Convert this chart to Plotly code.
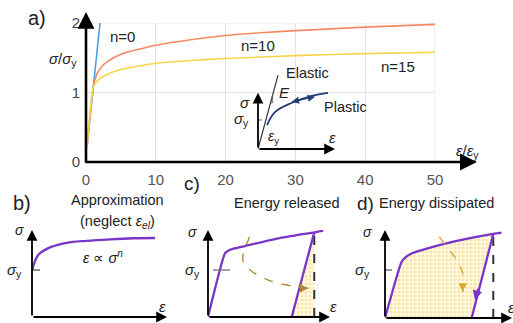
import plotly.graph_objects as go

# ---------------- Panel a: normalised stress-strain curves ----------------
strain_n0 = [0.15, 2.01]
stress_n0 = [0.22, 2.0]
strain_n10 = [0.15, 1.05, 1.5, 2, 3, 5, 10, 15, 20, 25, 30, 40, 50]
stress_n10 = [0.22, 1.08, 1.25, 1.34, 1.44, 1.55, 1.68, 1.76, 1.82, 1.86, 1.89, 1.94, 1.98]
strain_n15 = [0.15, 1.05, 1.5, 2, 3, 5, 10, 15, 20, 30, 40, 50]
stress_n15 = [0.22, 1.08, 1.15, 1.2, 1.26, 1.33, 1.42, 1.46, 1.49, 1.53, 1.56, 1.58]
x_ticks = [0, 10, 20, 30, 40, 50]
y_ticks = [0, 1, 2]

# inset schematic (normalised units)
inset_el_x = [0, 0.26]
inset_el_y = [0, 0.96]
inset_pl_x = [0.117, 0.22, 0.44, 0.70, 0.91]
inset_pl_y = [0.31, 0.48, 0.60, 0.69, 0.73]
inset_tri_x = [0.163, 0.19, 0.19, 0.163]
inset_tri_y = [0.60, 0.60, 0.70, 0.60]

# ---------------- Panel b ----------------
b_x = [0.002, 0.046, 0.133, 0.257, 0.405, 0.578, 0.75, 0.911]
b_y = [0.54, 0.713, 0.80, 0.853, 0.876, 0.893, 0.905, 0.908]

# ---------------- Panel c ----------------
c_load_x = [0, 0.139, 0.165, 0.21, 0.303, 0.576, 0.871, 0.945]
c_load_y = [0, 0.732, 0.762, 0.785, 0.816, 0.904, 0.973, 0.992]
c_unload_x = [0.871, 0.686]
c_unload_y = [0.973, 0]
c_fill_x = [0.686, 0.871, 0.871, 0.686]
c_fill_y = [0, 0.973, 0, 0]
c_path_x = [0.399, 0.330, 0.289, 0.289, 0.344, 0.494, 0.686, 0.822]
c_path_y = [1.115, 0.885, 0.732, 0.635, 0.54, 0.425, 0.356, 0.330]

# ---------------- Panel d ----------------
d_load_x = [0, 0.13, 0.16, 0.2, 0.273, 0.534, 0.846, 0.911]
d_load_y = [0, 0.64, 0.69, 0.728, 0.765, 0.867, 0.955, 0.969]
d_unload_x = [0.846, 0.677]
d_unload_y = [0.955, 0]
d_fill_x = [0, 0.13, 0.16, 0.2, 0.273, 0.534, 0.846, 0.677, 0]
d_fill_y = [0, 0.64, 0.69, 0.728, 0.765, 0.867, 0.955, 0, 0]
d_path_x = [0.338, 0.404, 0.482, 0.56, 0.607, 0.612, 0.607]
d_path_y = [1.083, 0.962, 0.81, 0.659, 0.508, 0.356, 0.299]

W, H = 513, 323
FONT = "Liberation Sans, Arial, sans-serif"
PURPLE = "#7A35C8"
NAVY = "#243C78"
BROWN = "#B08A3C"
GOLD = "#D6A932"

# pixel boxes of every panel: (x_left_px, x_right_px, y_bottom_px, y_top_px, xrange, yrange)
BOX = {
    1: (86, 435, 162, 23, (0, 50), (0, 2)),
    2: (258, 335, 149, 72, (0, 1), (0, 1)),
    3: (32, 167, 317, 230, (0, 1), (0, 1)),
    4: (208, 330, 317, 230, (0, 1), (0, 1)),
    5: (385, 513, 318, 230, (0, 1), (0, 1)),
}


def to_px(i, x, y):
    xl, xr, yb, yt, rx, ry = BOX[i]
    px = xl + (x - rx[0]) / (rx[1] - rx[0]) * (xr - xl)
    py = yb + (y - ry[0]) / (ry[1] - ry[0]) * (yt - yb)
    return px, py


fig = go.Figure()


def line(i, xs, ys, **kw):
    xa = "x" if i == 1 else "x%d" % i
    ya = "y" if i == 1 else "y%d" % i
    fig.add_trace(go.Scatter(x=xs, y=ys, mode="lines", xaxis=xa, yaxis=ya, hoverinfo="skip", **kw))


# panel a curves
line(1, strain_n0, stress_n0, line=dict(color="#4BA3E6", width=1.6))
line(1, strain_n10, stress_n10, line=dict(color="#F58A62", width=1.6, shape="spline", smoothing=0.6))
line(1, strain_n15, stress_n15, line=dict(color="#F7D54A", width=1.6, shape="spline", smoothing=0.6))

# inset
line(2, inset_el_x, inset_el_y, line=dict(color="#333", width=1.2))
line(2, inset_tri_x, inset_tri_y, line=dict(color="#555", width=0.8))
line(2, inset_pl_x, inset_pl_y, line=dict(color=NAVY, width=1.8, shape="spline"))
line(2, [-0.05, 0.05], [0.377, 0.377], line=dict(color="#555", width=1))

# panel b
line(3, b_x, b_y, line=dict(color=PURPLE, width=2.3, shape="spline"))
line(3, [-0.074, 0.059], [0.54, 0.54], line=dict(color="#444", width=1.2))

# panel c
line(4, c_fill_x, c_fill_y, fill="toself", line=dict(width=0), fillcolor="#FFF4D0",
     fillpattern=dict(shape=".", fgcolor="#F2CC66", bgcolor="#FFF8E0", size=4, solidity=0.35))
line(4, [0.871, 0.871], [0, 0.973], line=dict(color="#333", width=2, dash="dash"))
line(4, c_load_x, c_load_y, line=dict(color=PURPLE, width=2.3, shape="spline", smoothing=0.5))
line(4, c_unload_x, c_unload_y, line=dict(color=PURPLE, width=2.3))
line(4, [0.041, 0.18], [0.54, 0.54], line=dict(color="#777", width=1.4))
line(4, c_path_x, c_path_y, line=dict(color=BROWN, width=1.4, dash="dash", shape="spline"))

# panel d
line(5, d_fill_x, d_fill_y, fill="toself", line=dict(width=0), fillcolor="#FFF4D0",
     fillpattern=dict(shape=".", fgcolor="#F2CC66", bgcolor="#FFF8E0", size=4, solidity=0.35))
line(5, [0.846, 0.846], [0, 0.955], line=dict(color="#333", width=2, dash="dash"))
line(5, d_load_x, d_load_y, line=dict(color=PURPLE, width=2.3, shape="spline", smoothing=0.5))
line(5, d_unload_x, d_unload_y, line=dict(color=PURPLE, width=2.3))
line(5, [-0.04, 0.055], [0.545, 0.545], line=dict(color="#555", width=1.2))
line(5, d_path_x, d_path_y, line=dict(color=GOLD, width=1.4, dash="dash", shape="spline"))

ann = []


def arrow(i, x0, y0, x1, y1, color="#000", width=2.0, size=1.0, head=2, side="end"):
    p0 = to_px(i, x0, y0)
    p1 = to_px(i, x1, y1)
    ann.append(dict(xref="paper", yref="paper", x=p1[0] / W, y=1 - p1[1] / H,
                    axref="pixel", ayref="pixel", ax=p0[0] - p1[0], ay=p0[1] - p1[1],
                    showarrow=True, arrowhead=head, arrowwidth=width, arrowsize=size,
                    arrowcolor=color, arrowside=side, text="", standoff=0, startstandoff=0))


def head(i, x, y, dx, dy, color, width=1.4, size=1.2):
    p1 = to_px(i, x, y)
    ann.append(dict(xref="paper", yref="paper", x=p1[0] / W, y=1 - p1[1] / H,
                    axref="pixel", ayref="pixel", ax=dx, ay=dy, showarrow=True,
                    arrowhead=2, arrowwidth=width, arrowsize=size, arrowcolor=color, text=""))


def txt(i, x, y, s, size=14.5, color="#222", xanchor="center"):
    p = to_px(i, x, y)
    ann.append(dict(xref="paper", yref="paper", x=p[0] / W, y=1 - p[1] / H, text=s, showarrow=False,
                    font=dict(family=FONT, size=size, color=color), xanchor=xanchor, yanchor="middle"))


# main axis arrows
arrow(1, -0.3, 0, 56.0, 0, width=2.6, size=1.3)
arrow(1, 0, -0.03, 0, 2.16, width=2.6, size=1.3)
# inset axis arrows
arrow(2, 0, 0, 1.0, 0, width=1.8, size=1.2)
arrow(2, 0, 0, 0, 0.73, width=1.8, size=1.2)
arrow(2, 0.42, 0.61, 0.74, 0.68, color=NAVY, width=1.2, size=1.2, side="end+start")
# panel b axes
arrow(3, 0, 0, 1.0, 0, width=1.8, size=1.2)
arrow(3, 0, 0, 0, 1.0, width=1.8, size=1.2)
# panel c axes
arrow(4, 0, 0, 1.0, 0, width=1.8, size=1.2)
arrow(4, 0, 0, 0, 1.0, width=1.8, size=1.2)
head(4, 0.822, 0.330, -7, 0, BROWN)
# panel d axes
arrow(5, 0, 0, 1.05, 0, width=1.8, size=1.2)
arrow(5, 0, 0, 0, 1.0, width=1.8, size=1.2)
head(5, 0.607, 0.299, 0, -7, GOLD)
arrow(5, 0.729, 0.35, 0.703, 0.205, color=PURPLE, width=1.6, size=1.2)

# texts panel a
txt(1, -7.0, 2.07, "a)", size=20)
txt(1, 5.3, 1.80, "n=0", size=15)
txt(1, 24.6, 1.68, "n=10", size=15)
txt(1, 44.7, 1.37, "n=15", size=15)
txt(1, -3.3, 1.47, "<i>σ</i>/<i>σ</i><sub>y</sub>", size=15)
txt(1, 54.6, 0.15, "<i>ε</i>/<i>ε</i><sub>y</sub>", size=15)
# inset texts
txt(2, -0.17, 0.61, "<i>σ</i>", size=15)
txt(2, -0.21, 0.38, "<i>σ</i><sub>y</sub>", size=15)
txt(2, 0.20, 0.15, "<i>ε</i><sub>y</sub>", size=14)
txt(2, 0.97, 0.15, "<i>ε</i>", size=15)
txt(2, 0.34, 0.73, "<i>E</i>", size=15)
txt(2, 0.64, 0.99, "Elastic", size=14.5)
txt(2, 1.13, 0.55, "Plastic", size=14.5)
# panel b texts
txt(3, -0.074, 1.31, "b)", size=20)
txt(3, 0.63, 1.345, "Approximation", size=14.5)
txt(3, 0.63, 1.09, "(neglect <i>ε</i><sub><i>el</i></sub>)", size=14.5)
txt(3, 0.526, 0.69, "<i>ε</i> ∝ <i>σ</i><sup><i>n</i></sup>", size=14.5)
txt(3, -0.089, 1.0, "<i>σ</i>", size=14)
txt(3, -0.13, 0.54, "<i>σ</i><sub>y</sub>", size=15)
txt(3, 0.963, 0.115, "<i>ε</i>", size=15)
# panel c texts
txt(4, -0.131, 1.54, "c)", size=19)
txt(4, 0.648, 1.31, "Energy released", size=14.5)
txt(4, -0.131, 0.977, "<i>σ</i>", size=14)
txt(4, -0.131, 0.54, "<i>σ</i><sub>y</sub>", size=15)
txt(4, 1.025, 0.115, "<i>ε</i>", size=15)
# panel d texts
txt(5, -0.156, 1.305, "d)", size=19)
txt(5, 0.406, 1.305, "Energy dissipated", size=14.5)
txt(5, -0.133, 0.977, "<i>σ</i>", size=14)
txt(5, -0.172, 0.545, "<i>σ</i><sub>y</sub>", size=15)
txt(5, 0.985, 0.125, "<i>ε</i>", size=15)

hidden = dict(visible=False, range=[0, 1], fixedrange=True, showgrid=False, zeroline=False, automargin=False)


def dom(i):
    xl, xr, yb, yt, rx, ry = BOX[i]
    return [xl / W, xr / W], [1 - yb / H, 1 - yt / H]


layout_axes = {}
for i in range(2, 6):
    dx, dy = dom(i)
    layout_axes["xaxis%d" % i] = dict(hidden, domain=dx, anchor="y%d" % i)
    layout_axes["yaxis%d" % i] = dict(hidden, domain=dy, anchor="x%d" % i)
dx1, dy1 = dom(1)

fig.update_layout(
    width=W, height=H,
    margin=dict(l=0, r=0, t=0, b=0, pad=0, autoexpand=False),
    paper_bgcolor="white", plot_bgcolor="rgba(0,0,0,0)",
    showlegend=False,
    font=dict(family=FONT),
    xaxis=dict(domain=dx1, range=[0, 50], tickvals=x_ticks, automargin=False,
               showgrid=True, gridcolor="#E3E3E3", gridwidth=1, zeroline=False, showline=False,
               ticks="outside", ticklen=4, tickcolor="rgba(0,0,0,0)",
               tickfont=dict(size=15, color="#555", family=FONT), anchor="y"),
    yaxis=dict(domain=dy1, range=[0, 2], tickvals=y_ticks, automargin=False,
               showgrid=True, gridcolor="#E3E3E3", gridwidth=1, zeroline=False, showline=False,
               ticks="outside", ticklen=2, tickcolor="rgba(0,0,0,0)",
               tickfont=dict(size=15, color="#444", family=FONT), anchor="x"),
    annotations=ann,
    shapes=[
        dict(type="line", xref="x", yref="y", x0=0, x1=50, y0=2, y1=2, line=dict(color="#E3E3E3", width=1), layer="below"),
        dict(type="line", xref="x", yref="y", x0=50, x1=50, y0=0, y1=2, line=dict(color="#E3E3E3", width=1), layer="below"),
    ],
    **layout_axes,
)

fig.write_html("out.html", config={"displayModeBar": False, "staticPlot": True},
               post_script="document.body.style.margin='0';document.body.style.overflow='hidden';")
